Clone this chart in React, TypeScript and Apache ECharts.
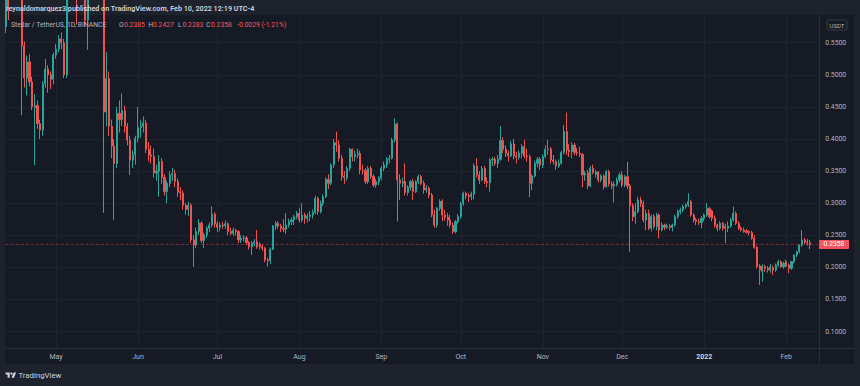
import React, { useEffect, useRef } from "react";
import * as echarts from "echarts";

// ---------- data (XLM/USDT daily) ----------
const firstDay = "2021-04-12";
const emptyDaysAfter = 3;

const opens = [
  // Apr 12-30
  0.575,0.620,0.600,0.640,0.680,0.660,0.620,0.545,0.495,0.520,0.489,0.449,0.452,0.424,0.414,0.486,0.509,0.500,0.493,
  // May
  0.531,0.540,0.556,0.550,0.500,0.630,0.660,0.640,0.680,0.660,0.700,0.720,0.585,0.660,0.720,0.690,0.740,0.660,0.630,0.442,0.494,0.420,0.389,0.362,0.440,0.430,0.444,0.420,0.398,0.367,0.375,
  // Jun
  0.401,0.418,0.420,0.425,0.384,0.375,0.373,0.347,0.350,0.365,0.340,0.318,0.331,0.344,0.346,0.334,0.318,0.316,0.297,0.290,0.297,0.243,0.235,0.256,0.269,0.242,0.2505,0.261,0.266,0.283,
  // Jul
  0.268,0.2625,0.266,0.2645,0.268,0.256,0.2531,0.258,0.2557,0.2427,0.2453,0.2460,0.2385,0.2323,0.2380,0.2400,0.2360,0.2323,0.2297,0.2116,0.2105,0.2282,0.2645,0.2686,0.2645,0.2610,0.2593,0.2661,0.2713,0.2738,0.2791,
  // Aug
  0.2843,0.2739,0.2816,0.2765,0.2791,0.2817,0.2853,0.3076,0.2868,0.2998,0.3102,0.3372,0.3310,0.3596,0.3943,0.3907,0.3699,0.3414,0.3394,0.3544,0.3840,0.3725,0.3760,0.3775,0.3518,0.3508,0.3336,0.3544,0.3414,0.3284,0.3336,
  // Sep
  0.3388,0.3544,0.3596,0.3684,0.3700,0.3985,0.4235,0.3362,0.3310,0.3336,0.3165,0.3248,0.3336,0.3180,0.3336,0.3414,0.3310,0.3206,0.3232,0.3128,0.2817,0.2661,0.2920,0.3030,0.2817,0.2780,0.2738,0.2660,0.2557,0.2712,
  // Oct
  0.2790,0.2998,0.3154,0.3115,0.3102,0.3140,0.3580,0.3440,0.3361,0.3543,0.3335,0.3320,0.3673,0.3684,0.3622,0.3684,0.3975,0.3840,0.3777,0.3736,0.3923,0.3736,0.3715,0.3777,0.3881,0.3736,0.3725,0.3310,0.3424,0.3622,0.3684,
  // Nov
  0.3596,0.3725,0.3835,0.3845,0.3673,0.3648,0.3580,0.3622,0.3788,0.4115,0.3829,0.3800,0.3907,0.3790,0.3777,0.3760,0.3440,0.3476,0.3268,0.3544,0.3450,0.3486,0.3362,0.3424,0.3258,0.3491,0.3300,0.3270,0.3290,0.3361,
  // Dec
  0.3439,0.3284,0.3413,0.3268,0.2960,0.2790,0.2868,0.3050,0.2995,0.2738,0.2842,0.2609,0.2790,0.2635,0.2816,0.2583,0.2661,0.2625,0.2640,0.2622,0.2661,0.2790,0.2868,0.2894,0.2946,0.2972,0.3024,0.2816,0.2738,0.2713,0.2700,
  // Jan 2022
  0.2764,0.2816,0.2920,0.2880,0.2764,0.2661,0.2609,0.2687,0.2635,0.2609,0.2645,0.2738,0.2842,0.2687,0.2609,0.2583,0.2570,0.2560,0.2545,0.2453,0.2313,0.2021,0.1934,0.2011,0.1985,0.1960,0.2000,0.1960,0.2037,0.2089,0.2011,
  // Feb 1-10
  0.2089,0.2037,0.1985,0.2089,0.2193,0.2245,0.2349,0.2427,0.2395,0.2385,
];

const highs = [
  0.640,0.645,0.660,0.700,0.720,0.680,0.630,0.552,0.530,0.532,0.497,0.470,0.460,0.430,0.490,0.525,0.515,0.505,0.535,
  0.548,0.562,0.566,0.556,0.640,0.680,0.690,0.700,0.700,0.730,0.750,0.750,0.680,0.740,0.740,0.790,0.760,0.680,0.640,0.535,0.505,0.430,0.400,0.450,0.460,0.471,0.452,0.425,0.405,0.382,0.405,
  0.450,0.430,0.435,0.430,0.395,0.390,0.385,0.360,0.375,0.370,0.345,0.335,0.350,0.355,0.352,0.338,0.325,0.320,0.300,0.302,0.300,0.250,0.262,0.275,0.272,0.254,0.264,0.270,0.295,0.286,
  0.272,0.270,0.271,0.273,0.270,0.262,0.262,0.260,0.258,0.250,0.250,0.249,0.241,0.241,0.244,0.2583,0.239,0.236,0.232,0.215,0.231,0.266,0.272,0.272,0.268,0.275,0.2843,0.276,0.278,0.282,0.288,
  0.292,0.2998,0.285,0.284,0.288,0.290,0.312,0.310,0.304,0.314,0.340,0.345,0.362,0.400,0.4115,0.398,0.375,0.350,0.358,0.386,0.3855,0.382,0.385,0.382,0.360,0.355,0.358,0.358,0.345,0.338,0.342,
  0.358,0.365,0.372,0.375,0.402,0.4322,0.426,0.345,0.340,0.362,0.328,0.336,0.338,0.336,0.345,0.344,0.335,0.328,0.326,0.316,0.290,0.294,0.306,0.306,0.290,0.285,0.282,0.270,0.274,0.283,
  0.302,0.318,0.318,0.316,0.318,0.362,0.370,0.350,0.358,0.358,0.340,0.370,0.372,0.372,0.375,0.4203,0.403,0.390,0.382,0.397,0.400,0.380,0.382,0.392,0.399,0.385,0.376,0.345,0.366,0.372,0.372,
  0.376,0.390,0.3985,0.388,0.375,0.368,0.368,0.382,0.4218,0.4411,0.392,0.395,0.394,0.386,0.388,0.378,0.350,0.352,0.358,0.360,0.352,0.350,0.345,0.345,0.352,0.352,0.334,0.334,0.340,0.348,
  0.350,0.344,0.3647,0.330,0.300,0.300,0.310,0.310,0.304,0.290,0.290,0.282,0.283,0.285,0.284,0.270,0.268,0.268,0.267,0.268,0.282,0.290,0.293,0.298,0.300,0.3154,0.305,0.284,0.277,0.276,0.280,
  0.284,0.2998,0.294,0.290,0.281,0.268,0.272,0.271,0.268,0.272,0.277,0.2946,0.287,0.272,0.264,0.262,0.260,0.258,0.257,0.250,0.233,0.205,0.205,0.204,0.202,0.205,0.203,0.206,0.212,0.211,0.209,
  0.212,0.206,0.210,0.220,0.226,0.236,0.2583,0.246,0.244,0.2427,
];

const lows = [
  0.565,0.585,0.596,0.620,0.630,0.600,0.437,0.480,0.468,0.482,0.445,0.359,0.416,0.400,0.405,0.480,0.472,0.478,0.485,
  0.525,0.535,0.540,0.495,0.495,0.620,0.620,0.630,0.578,0.640,0.680,0.575,0.539,0.640,0.660,0.670,0.640,0.610,0.285,0.420,0.405,0.370,0.274,0.355,0.410,0.420,0.410,0.390,0.344,0.355,0.360,
  0.395,0.402,0.410,0.378,0.365,0.362,0.340,0.335,0.310,0.330,0.312,0.300,0.325,0.335,0.325,0.310,0.305,0.290,0.282,0.280,0.238,0.201,0.230,0.250,0.238,0.230,0.246,0.255,0.262,0.262,
  0.255,0.256,0.260,0.260,0.250,0.250,0.249,0.250,0.238,0.238,0.240,0.235,0.228,0.2194,0.233,0.229,0.228,0.226,0.208,0.2012,0.205,0.227,0.258,0.260,0.255,0.255,0.252,0.262,0.266,0.266,0.275,
  0.270,0.270,0.268,0.270,0.272,0.276,0.283,0.282,0.284,0.296,0.308,0.322,0.328,0.355,0.380,0.365,0.335,0.330,0.335,0.350,0.365,0.365,0.370,0.345,0.345,0.330,0.330,0.338,0.325,0.324,0.328,
  0.336,0.350,0.355,0.362,0.368,0.395,0.2713,0.305,0.325,0.312,0.312,0.320,0.305,0.316,0.330,0.328,0.315,0.316,0.308,0.278,0.262,0.262,0.288,0.272,0.273,0.265,0.262,0.252,0.253,0.268,
  0.276,0.296,0.306,0.302,0.305,0.306,0.340,0.330,0.334,0.330,0.325,0.318,0.358,0.358,0.355,0.366,0.378,0.372,0.365,0.372,0.368,0.362,0.368,0.370,0.370,0.365,0.3092,0.320,0.340,0.356,0.352,
  0.355,0.370,0.375,0.362,0.360,0.352,0.355,0.360,0.376,0.375,0.372,0.370,0.375,0.374,0.372,0.325,0.335,0.322,0.325,0.345,0.340,0.332,0.333,0.321,0.324,0.326,0.322,0.3013,0.326,0.332,
  0.325,0.325,0.322,0.2245,0.272,0.268,0.284,0.294,0.270,0.258,0.258,0.256,0.260,0.258,0.2453,0.256,0.258,0.260,0.258,0.256,0.264,0.276,0.283,0.286,0.291,0.294,0.279,0.270,0.266,0.266,0.2609,
  0.272,0.279,0.276,0.272,0.262,0.256,0.258,0.257,0.2375,0.255,0.262,0.272,0.266,0.258,0.256,0.254,0.253,0.250,0.243,0.229,0.198,0.1726,0.1778,0.193,0.192,0.192,0.188,0.193,0.201,0.199,0.198,
  0.200,0.1908,0.196,0.206,0.216,0.222,0.232,0.236,0.234,0.2283,
];

const closes = [
  0.620,0.600,0.640,0.680,0.660,0.620,0.545,0.495,0.520,0.489,0.450,0.452,0.424,0.414,0.486,0.509,0.500,0.493,0.531,
  0.540,0.556,0.550,0.500,0.630,0.660,0.640,0.680,0.660,0.700,0.720,0.585,0.660,0.720,0.690,0.740,0.660,0.630,0.442,0.494,0.420,0.389,0.362,0.440,0.430,0.444,0.420,0.398,0.367,0.375,0.401,
  0.418,0.420,0.425,0.384,0.375,0.373,0.347,0.350,0.365,0.340,0.318,0.331,0.344,0.346,0.334,0.318,0.316,0.297,0.290,0.297,0.243,0.235,0.256,0.269,0.242,0.2505,0.261,0.266,0.283,0.268,
  0.2625,0.266,0.2645,0.268,0.256,0.2531,0.258,0.2557,0.2427,0.2453,0.2460,0.2385,0.2323,0.2380,0.2400,0.2320,0.2323,0.2297,0.2116,0.2105,0.2282,0.2645,0.2686,0.2645,0.2610,0.2593,0.2661,0.2713,0.2738,0.2791,0.2843,
  0.2739,0.2816,0.2765,0.2791,0.2817,0.2853,0.3076,0.2868,0.2998,0.3102,0.3372,0.3310,0.3596,0.3943,0.3907,0.3699,0.3414,0.3394,0.3544,0.3840,0.3725,0.3760,0.3775,0.3518,0.3508,0.3336,0.3544,0.3414,0.3284,0.3336,0.3388,
  0.3544,0.3596,0.3684,0.3700,0.3985,0.4235,0.3362,0.3310,0.3336,0.3165,0.3248,0.3336,0.3180,0.3336,0.3414,0.3310,0.3206,0.3232,0.3128,0.2817,0.2661,0.2920,0.3030,0.2817,0.2780,0.2738,0.2660,0.2557,0.2712,0.2790,
  0.2998,0.3154,0.3115,0.3102,0.3140,0.3580,0.3440,0.3361,0.3543,0.3335,0.3320,0.3673,0.3684,0.3622,0.3684,0.3975,0.3840,0.3777,0.3736,0.3923,0.3736,0.3715,0.3777,0.3881,0.3736,0.3725,0.3310,0.3424,0.3622,0.3684,0.3596,
  0.3725,0.3840,0.3845,0.3673,0.3648,0.3580,0.3622,0.3788,0.4115,0.3829,0.3800,0.3907,0.3790,0.3777,0.3760,0.3440,0.3466,0.3268,0.3544,0.3476,0.3486,0.3362,0.3424,0.3258,0.3491,0.3300,0.3270,0.3290,0.3361,0.3439,
  0.3284,0.3413,0.3268,0.2960,0.2790,0.2868,0.3050,0.2995,0.2738,0.2842,0.2609,0.2790,0.2635,0.2816,0.2583,0.2661,0.2625,0.2640,0.2622,0.2661,0.2790,0.2868,0.2894,0.2946,0.2972,0.3024,0.2816,0.2738,0.2713,0.2700,0.2764,
  0.2816,0.2920,0.2790,0.2764,0.2661,0.2609,0.2687,0.2609,0.2609,0.2645,0.2738,0.2842,0.2687,0.2609,0.2583,0.2557,0.2545,0.2540,0.2453,0.2313,0.2011,0.1960,0.2021,0.1985,0.1960,0.2011,0.1960,0.2037,0.2089,0.2011,0.2063,
  0.2021,0.1985,0.2089,0.2193,0.2245,0.2349,0.2427,0.2395,0.2385,0.2358,
];

const priceTicks = [0.10, 0.15, 0.20, 0.25, 0.30, 0.35, 0.40, 0.45, 0.50, 0.55];
const monthNames = ["Jan", "Feb", "Mar", "Apr", "May", "Jun", "Jul", "Aug", "Sep", "Oct", "Nov", "Dec"];

const headerText = "reynaldomarquez3 published on TradingView.com, Feb 10, 2022 12:19 UTC-4";
const symbolText = "Stellar / TetherUS, 1D, BINANCE";
const ohlcKeys = ["O", "H", "L", "C"];
const ohlcValues = ["0.2385", "0.2427", "0.2283", "0.2358"];
const changeText = "-0.0029 (-1.21%)";
const lastPrice = 0.2358;
const quoteCurrency = "USDT";

// ---------- style ----------
const UP = "#26A69A";
const DOWN = "#EF5350";
const PRICE_LINE = "#7E2B35";
const FONT = "Roboto, 'Noto Sans', sans-serif";
const LOGO_D =
  "M14 22H7V11H0V4h14v18zM28 22h-8l7.5-18h8L28 22zM24 8a4 4 0 1 1-8 0 4 4 0 0 1 8 0z";

function buildDates(): string[] {
  const out: string[] = [];
  const [y, m, d] = firstDay.split("-").map(Number);
  const t0 = Date.UTC(y, m - 1, d);
  const total = closes.length + emptyDaysAfter;
  for (let i = 0; i < total; i++) {
    const dt = new Date(t0 + i * 86400000);
    const mm = String(dt.getUTCMonth() + 1).padStart(2, "0");
    const dd = String(dt.getUTCDate()).padStart(2, "0");
    out.push(`${dt.getUTCFullYear()}-${mm}-${dd}`);
  }
  return out;
}

let logoRegistered = false;

export default function App() {
  const ref = useRef<HTMLDivElement>(null);

  useEffect(() => {
    if (!ref.current) return;
    if (!logoRegistered) {
      echarts.graphic.registerShape("tvlogo", echarts.graphic.extendPath(LOGO_D, {}));
      logoRegistered = true;
    }
    const chart = echarts.init(ref.current, null, { renderer: "svg" });
    const dates = buildDates();
    const candles = closes.map((c, i) => {
      const o = opens[i];
      const h = Math.max(highs[i], o, c);
      const l = Math.min(lows[i], o, c);
      return [o, c, l, h];
    });
    const isMonthStart = (_i: number, v: string) => v.endsWith("-01");

    const graphics: any[] = [
      // chart panel background
      { type: "rect", z: -5, silent: true, shape: { x: 5, y: 15, width: 849, height: 349 }, style: { fill: "#161A25" } },
      // separators
      { type: "line", z: 5, silent: true, shape: { x1: 819.5, y1: 15, x2: 819.5, y2: 364 }, style: { stroke: "#2A2E39", lineWidth: 1 } },
      { type: "line", z: 5, silent: true, shape: { x1: 5, y1: 348.5, x2: 854, y2: 348.5 }, style: { stroke: "#2A2E39", lineWidth: 1 } },
      // header
      { type: "text", z: 10, x: 6, y: 8.5, style: { text: headerText, fill: "#D1D4DC", fontSize: 7.2, fontWeight: 600, fontFamily: FONT, verticalAlign: "middle" } },
      { type: "text", z: 10, x: 11, y: 25, style: { text: symbolText, fill: "#B2B5BE", fontSize: 6.8, fontFamily: FONT, verticalAlign: "middle" } },
      // quote badge
      { type: "rect", z: 10, shape: { x: 827, y: 20, width: 20, height: 10, r: 2 }, style: { fill: "#161A25", stroke: "#363A45", lineWidth: 1 } },
      { type: "text", z: 11, x: 837, y: 25, style: { text: quoteCurrency, fill: "#B2B5BE", fontSize: 6, fontFamily: FONT, align: "center", verticalAlign: "middle" } },
      // footer logo
      { type: "tvlogo", z: 10, x: 5.5, y: 371.2, scaleX: 0.3, scaleY: 0.3, style: { fill: "#D1D4DC" } },
      { type: "text", z: 10, x: 18.5, y: 375, style: { text: "TradingView", fill: "#D1D4DC", fontSize: 7.8, fontFamily: FONT, verticalAlign: "middle" } },
    ];
    const keyX = [119, 148.3, 178, 206];
    const valX = [124, 153, 182.5, 211];
    ohlcKeys.forEach((k, i) => {
      graphics.push({ type: "text", z: 10, x: keyX[i], y: 25, style: { text: k, fill: "#B2B5BE", fontSize: 6.8, fontFamily: FONT, verticalAlign: "middle" } });
      graphics.push({ type: "text", z: 10, x: valX[i], y: 25, style: { text: ohlcValues[i], fill: "#F7525F", fontSize: 6.8, fontFamily: FONT, verticalAlign: "middle" } });
    });
    graphics.push({ type: "text", z: 10, x: 237, y: 25, style: { text: changeText, fill: "#F7525F", fontSize: 6.8, fontFamily: FONT, verticalAlign: "middle" } });

    chart.setOption({
      animation: false,
      backgroundColor: "#1E222D",
      textStyle: { fontFamily: FONT },
      grid: { left: 4.41, top: 15, width: 814.85, height: 333, containLabel: false },
      xAxis: {
        type: "category",
        data: dates,
        boundaryGap: true,
        axisLine: { show: false },
        axisTick: { show: false },
        axisLabel: {
          interval: isMonthStart,
          margin: 5,
          color: "#B2B5BE",
          fontSize: 7,
          fontFamily: FONT,
          formatter: (v: string) => {
            const [yy, mm] = v.split("-");
            return mm === "01" ? `{yr|${yy}}` : monthNames[Number(mm) - 1];
          },
          rich: { yr: { color: "#D1D4DC", fontWeight: "bold", fontSize: 7, fontFamily: FONT } },
        },
        splitLine: {
          show: true,
          interval: isMonthStart,
          alignWithLabel: true,
          lineStyle: { color: "#1F2330", width: 1 },
        },
      },
      yAxis: {
        type: "value",
        position: "right",
        min: 0.07445,
        max: 0.59315,
        axisLine: { show: false },
        axisTick: { show: false, customValues: priceTicks },
        axisLabel: {
          customValues: priceTicks,
          margin: 6,
          color: "#B2B5BE",
          fontSize: 6.8,
          fontFamily: FONT,
          formatter: (v: number) => v.toFixed(4),
        },
        splitLine: { show: true, lineStyle: { color: "#1F2330", width: 1 } },
      },
      series: [
        {
          // last-price level line
          type: "line",
          z: 1,
          silent: true,
          symbol: "none",
          data: [
            [dates[0], lastPrice],
            [dates[dates.length - 1], lastPrice],
          ],
          lineStyle: { color: PRICE_LINE, type: [3, 2], width: 1 },
          itemStyle: { color: PRICE_LINE },
        },
        {
          type: "candlestick",
          z: 2,
          data: candles,
          clip: true,
          barWidth: 1.6,
          itemStyle: { color: UP, color0: DOWN, borderColor: UP, borderColor0: DOWN, borderWidth: 1 },
        },
      ],
      graphic: graphics,
    });

    // last-price tag on the price scale, placed through the axis scale
    const pt = chart.convertToPixel({ xAxisIndex: 0, yAxisIndex: 0 }, [dates[dates.length - 1], lastPrice]) as number[];
    const py = pt[1];
    chart.setOption({
      graphic: [
        ...graphics,
        { type: "rect", z: 12, shape: { x: 819, y: py - 4.5, width: 30, height: 9, r: 1 }, style: { fill: "#F7525F" } },
        { type: "text", z: 13, x: 834, y: py, style: { text: lastPrice.toFixed(4), fill: "#FFFFFF", fontSize: 6.8, fontFamily: FONT, align: "center", verticalAlign: "middle" } },
      ],
    });
    return () => chart.dispose();
  }, []);

  return <div ref={ref} style={{ position: "fixed", left: 0, top: 0, width: 860, height: 386 }} />;
}
